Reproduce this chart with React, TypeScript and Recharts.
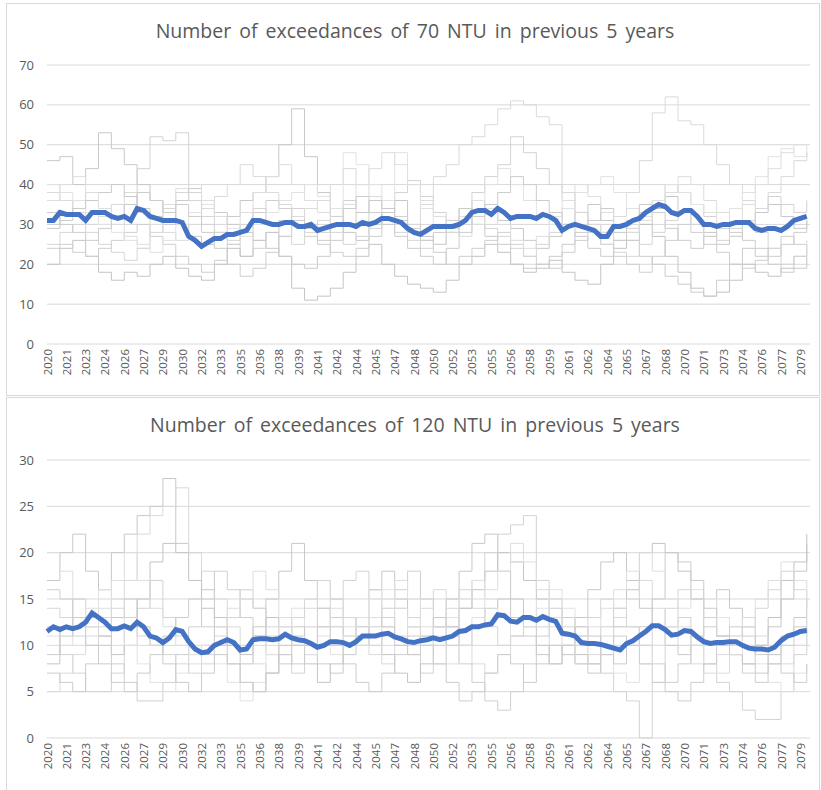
import React from 'react';
import { LineChart, Line, XAxis, YAxis, CartesianGrid } from 'recharts';

// x axis labels, one every 18 months
const TICK_YEARS = [
  2020, 2021, 2023, 2024, 2026, 2027, 2029, 2030, 2032, 2033,
  2035, 2036, 2038, 2039, 2041, 2042, 2044, 2045, 2047, 2048,
  2050, 2052, 2053, 2055, 2056, 2058, 2059, 2061, 2062, 2064,
  2065, 2067, 2068, 2070, 2071, 2073, 2074, 2076, 2077, 2079,
];

// mean of all runs, sampled every 6 months
const MEAN_70 = [
  31, 31, 33, 32.5, 32.5, 32.5, 31, 33, 33, 33, 32, 31.5, 32, 31, 34, 33.5, 32, 31.5, 31, 31,
  31, 30.5, 27, 26, 24.5, 25.5, 26.5, 26.5, 27.5, 27.5, 28, 28.5, 31, 31, 30.5, 30, 30, 30.5, 30.5, 29.5,
  29.5, 30, 28.5, 29, 29.5, 30, 30, 30, 29.5, 30.5, 30, 30.5, 31.5, 31.5, 31, 30.5, 29, 28, 27.5, 28.5,
  29.5, 29.5, 29.5, 29.5, 30, 31, 33, 33.5, 33.5, 32.5, 34, 33, 31.5, 32, 32, 32, 31.5, 32.5, 32, 31,
  28.5, 29.5, 30, 29.5, 29, 28.5, 27, 27, 29.5, 29.5, 30, 31, 31.5, 33, 34, 35, 34.5, 33, 32.5, 33.5,
  33.5, 32, 30, 30, 29.5, 30, 30, 30.5, 30.5, 30.5, 29, 28.5, 29, 29, 28.5, 29.5, 31, 31.5, 32,
];

const MEAN_120 = [
  11.5, 12, 11.7, 12, 11.8, 12, 12.5, 13.5, 13, 12.5, 11.8, 11.8, 12.1, 11.8, 12.5, 12, 11, 10.8, 10.3, 10.8,
  11.7, 11.5, 10.4, 9.6, 9.2, 9.3, 10, 10.3, 10.6, 10.3, 9.5, 9.6, 10.6, 10.7, 10.7, 10.6, 10.7, 11.2, 10.8, 10.6,
  10.5, 10.2, 9.8, 10, 10.4, 10.4, 10.3, 10, 10.4, 11, 11, 11, 11.2, 11.3, 10.9, 10.7, 10.4, 10.3, 10.5, 10.6,
  10.8, 10.6, 10.8, 11, 11.5, 11.6, 12, 12, 12.2, 12.3, 13.3, 13.2, 12.6, 12.5, 13, 13, 12.7, 13.1, 12.8, 12.6,
  11.3, 11.2, 11, 10.3, 10.2, 10.2, 10.1, 9.9, 9.7, 9.5, 10.2, 10.5, 11, 11.5, 12.1, 12.1, 11.7, 11.1, 11.2, 11.6,
  11.5, 10.9, 10.4, 10.2, 10.3, 10.3, 10.4, 10.4, 10, 9.7, 9.6, 9.6, 9.5, 9.8, 10.5, 11, 11.2, 11.5, 11.6,
];

// individual runs, one value per year
const RUN70_A = [46, 47, 40, 44, 53, 49, 45, 40, 36, 33, 30, 27, 25, 28, 32, 36, 38, 42, 50, 59, 47, 38, 32, 28, 26, 30, 33, 36, 30, 27, 25, 28, 32, 36, 34, 31, 29, 26, 24, 27, 30, 33, 35, 31, 28, 26, 30, 34, 37, 33, 30, 28, 25, 27, 30, 33, 35, 32, 29, 31];
const RUN70_B = [30, 33, 36, 38, 34, 30, 35, 44, 52, 51, 53, 38, 30, 27, 25, 22, 24, 28, 31, 34, 30, 28, 32, 36, 33, 30, 34, 38, 41, 37, 33, 30, 34, 38, 42, 45, 52, 48, 44, 40, 36, 33, 30, 28, 26, 29, 33, 36, 40, 38, 35, 32, 29, 27, 30, 34, 37, 35, 33, 36];
const RUN70_C = [20, 24, 26, 22, 18, 16, 18, 17, 20, 22, 19, 17, 16, 20, 24, 22, 26, 28, 22, 14, 11, 12, 14, 18, 22, 25, 20, 17, 15, 14, 13, 16, 20, 22, 25, 23, 20, 18, 19, 21, 18, 16, 15, 20, 24, 28, 30, 27, 22, 18, 14, 12, 13, 16, 20, 18, 17, 19, 22, 20];
const RUN70_D = [38, 36, 33, 30, 32, 35, 38, 33, 30, 28, 26, 30, 34, 37, 40, 45, 42, 38, 35, 32, 34, 36, 40, 44, 40, 37, 34, 31, 30, 35, 42, 45, 50, 52, 55, 59, 61, 60, 57, 55, 38, 33, 30, 28, 32, 38, 46, 58, 62, 56, 55, 50, 45, 40, 36, 34, 38, 42, 46, 48];
const RUN70_E = [24, 25, 23, 22, 24, 26, 28, 30, 27, 25, 22, 20, 18, 21, 25, 28, 33, 36, 34, 30, 27, 25, 23, 22, 24, 27, 30, 32, 29, 26, 23, 20, 22, 24, 26, 28, 25, 22, 20, 19, 23, 26, 28, 25, 22, 20, 18, 22, 26, 30, 28, 25, 23, 20, 19, 21, 24, 27, 25, 22];
const RUN70_F = [40, 38, 36, 33, 30, 28, 26, 24, 23, 26, 30, 33, 35, 32, 29, 27, 30, 33, 36, 38, 40, 37, 34, 48, 45, 40, 36, 48, 40, 34, 30, 28, 32, 36, 40, 44, 40, 36, 32, 30, 34, 38, 40, 42, 38, 34, 32, 36, 40, 38, 35, 33, 30, 34, 38, 42, 47, 49, 47, 48];
const RUN70_G = [29, 31, 34, 36, 38, 40, 37, 34, 32, 30, 36, 39, 36, 33, 30, 28, 26, 24, 22, 20, 19, 22, 26, 30, 33, 36, 34, 31, 28, 26, 28, 31, 34, 30, 27, 25, 20, 19, 20, 22, 25, 28, 31, 34, 30, 26, 22, 20, 17, 15, 13, 12, 16, 20, 24, 22, 20, 18, 19, 20];
const RUN70_H = [25, 28, 30, 28, 25, 23, 21, 24, 28, 34, 38, 36, 32, 28, 26, 30, 34, 30, 27, 25, 28, 31, 28, 25, 27, 29, 31, 28, 26, 24, 25, 28, 30, 32, 29, 27, 24, 22, 25, 28, 30, 33, 28, 25, 23, 22, 25, 28, 31, 33, 30, 27, 26, 29, 31, 28, 24, 20, 22, 26];
const RUN70_I = [36, 40, 42, 38, 34, 30, 27, 25, 30, 35, 39, 40, 36, 32, 28, 33, 38, 42, 45, 40, 36, 33, 30, 35, 40, 44, 48, 45, 40, 36, 32, 29, 27, 30, 34, 30, 26, 24, 27, 32, 36, 40, 37, 33, 30, 28, 31, 35, 38, 42, 40, 36, 33, 30, 35, 40, 44, 48, 50, 47];
const RUN70_J = [33, 30, 28, 26, 29, 32, 35, 38, 36, 33, 35, 32, 28, 24, 20, 17, 19, 23, 27, 31, 29, 26, 30, 34, 37, 33, 30, 27, 24, 22, 20, 24, 28, 32, 35, 38, 42, 40, 36, 33, 30, 27, 24, 22, 26, 31, 35, 33, 29, 26, 24, 27, 30, 28, 26, 24, 22, 25, 28, 31];

const RUN120_A = [17, 20, 22, 18, 16, 20, 22, 24, 25, 28, 21, 20, 16, 13, 10, 8, 12, 15, 18, 21, 17, 14, 12, 10, 13, 16, 18, 15, 12, 10, 12, 15, 18, 21, 22, 18, 15, 12, 10, 8, 10, 13, 16, 19, 20, 17, 14, 12, 10, 9, 11, 13, 16, 14, 12, 10, 12, 15, 18, 21];
const RUN120_B = [12, 9, 7, 5, 5, 7, 10, 14, 17, 13, 11, 9, 8, 10, 13, 16, 14, 11, 9, 7, 9, 12, 15, 17, 18, 16, 13, 11, 9, 7, 8, 11, 14, 17, 20, 22, 23, 24, 17, 15, 12, 10, 8, 7, 5, 4, 0, 6, 12, 13, 10, 8, 6, 5, 3, 2, 2, 5, 9, 12];
const RUN120_C = [8, 12, 15, 13, 11, 9, 12, 15, 19, 21, 20, 17, 14, 12, 10, 9, 11, 13, 12, 10, 8, 6, 8, 10, 12, 11, 9, 7, 6, 8, 10, 12, 14, 16, 18, 20, 19, 17, 15, 13, 11, 9, 8, 10, 12, 16, 20, 21, 20, 18, 15, 13, 11, 9, 8, 10, 13, 17, 19, 22];
const RUN120_D = [5, 7, 9, 11, 13, 15, 17, 22, 24, 25, 27, 20, 18, 15, 12, 10, 8, 7, 9, 11, 14, 17, 15, 13, 11, 9, 8, 10, 12, 14, 16, 13, 10, 8, 7, 9, 11, 13, 15, 12, 10, 8, 9, 11, 13, 15, 17, 14, 12, 10, 8, 7, 9, 11, 13, 11, 9, 8, 10, 12];
const RUN120_E = [16, 15, 13, 12, 10, 8, 6, 4, 4, 6, 9, 12, 15, 18, 16, 13, 11, 9, 8, 10, 12, 14, 13, 11, 10, 12, 14, 16, 18, 15, 12, 10, 8, 6, 4, 3, 5, 8, 11, 14, 13, 11, 10, 12, 14, 12, 10, 8, 6, 8, 10, 12, 11, 9, 7, 6, 8, 10, 12, 13];
const RUN120_F = [11, 10, 12, 14, 16, 13, 10, 8, 6, 5, 7, 9, 10, 8, 6, 4, 6, 9, 12, 14, 12, 10, 9, 11, 13, 15, 16, 14, 12, 10, 11, 13, 15, 17, 15, 13, 11, 12, 14, 16, 14, 12, 10, 9, 7, 6, 8, 10, 12, 14, 16, 15, 13, 11, 10, 8, 6, 5, 7, 8];
const RUN120_G = [7, 6, 5, 8, 11, 13, 15, 12, 10, 8, 6, 5, 7, 9, 8, 6, 5, 7, 10, 12, 10, 8, 7, 9, 11, 13, 12, 10, 9, 11, 13, 12, 10, 12, 14, 15, 13, 11, 9, 8, 10, 12, 11, 9, 8, 10, 12, 15, 20, 19, 17, 14, 11, 9, 8, 7, 9, 11, 13, 15];
const RUN120_H = [14, 13, 11, 10, 12, 14, 13, 11, 10, 9, 8, 7, 9, 11, 13, 15, 14, 12, 11, 13, 15, 17, 15, 13, 11, 10, 12, 14, 13, 11, 12, 14, 16, 14, 12, 10, 11, 13, 12, 10, 9, 11, 13, 15, 14, 12, 10, 12, 14, 16, 15, 13, 11, 10, 12, 14, 16, 18, 16, 14];
const RUN120_I = [20, 18, 15, 12, 14, 17, 20, 17, 14, 12, 10, 8, 10, 12, 14, 16, 18, 16, 13, 11, 9, 11, 14, 12, 10, 13, 15, 17, 15, 12, 10, 8, 10, 13, 16, 18, 21, 19, 16, 13, 11, 10, 12, 14, 16, 18, 20, 18, 15, 12, 10, 8, 7, 9, 12, 15, 17, 19, 17, 15];
const RUN120_J = [9, 11, 13, 10, 8, 6, 5, 7, 9, 11, 13, 15, 12, 10, 8, 6, 5, 7, 9, 8, 10, 12, 10, 8, 6, 5, 7, 9, 11, 10, 8, 6, 4, 5, 7, 9, 8, 6, 8, 10, 9, 8, 7, 9, 11, 10, 8, 6, 5, 4, 6, 8, 10, 12, 11, 9, 8, 7, 6, 8];

const RUNS_70 = [RUN70_A, RUN70_B, RUN70_C, RUN70_D, RUN70_E, RUN70_F, RUN70_G, RUN70_H, RUN70_I, RUN70_J];
const RUNS_120 = [RUN120_A, RUN120_B, RUN120_C, RUN120_D, RUN120_E, RUN120_F, RUN120_G, RUN120_H, RUN120_I, RUN120_J];

const GREYS = ['#c8c8c8', '#d3d3d3', '#c4c4c4', '#dadada', '#cfcfcf', '#e2e2e2', '#cbcbcb', '#d6d6d6', '#dedede', '#cdcdcd'];
const TEXT = '#595959';
const FONT = '"Open Sans", sans-serif';

// month offset of each sample
const toRows = (vals: number[], step: number) => vals.map((v, i) => ({ m: i * step, v }));

const YearTick = (props: any) => {
  const { x, y, payload } = props;
  const label = TICK_YEARS[Math.round(payload.value / 18)];
  return (
    <text x={x} y={y} transform={`rotate(-90 ${x} ${y})`} textAnchor="end" dominantBaseline="central"
      fill={TEXT} fontSize={11.5} fontFamily={FONT}>
      {label}
    </text>
  );
};

function Panel({ title, top, height, plotTop, axisH, yMax, yStep, runs, mean }: any) {
  const yTicks: number[] = [];
  for (let t = 0; t <= yMax; t += yStep) yTicks.push(t);
  const xTicks = TICK_YEARS.map((_, i) => i * 18);
  return (
    <div style={{ position: 'absolute', left: 6, top, width: 814, height, border: '1px solid #d9d9d9', boxSizing: 'border-box' }}>
      <div style={{ position: 'absolute', left: 4, right: 0, top: 13, textAlign: 'center', fontFamily: FONT, fontSize: 19.5, color: TEXT, wordSpacing: 3 }}>
        {title}
      </div>
      <div style={{ position: 'absolute', left: -6, top: -1 }}>
        <LineChart width={821} height={height} margin={{ top: plotTop, right: 12, left: 0, bottom: 0 }}>
          <CartesianGrid vertical={false} stroke="#d9d9d9" />
          <XAxis dataKey="m" type="number" domain={[0, 711]} ticks={xTicks} interval={0}
            axisLine={false} tickLine={false} tickSize={0} tickMargin={5} height={axisH} tick={<YearTick />} />
          <YAxis type="number" domain={[0, yMax]} ticks={yTicks} width={46} axisLine={false} tickLine={false}
            tickSize={0} tickMargin={13} tick={{ fill: TEXT, fontSize: 13, fontFamily: FONT }} />
          {runs.map((r: number[], i: number) => (
            <Line key={i} data={toRows(r, 12)} dataKey="v" type="stepAfter" stroke={GREYS[i % GREYS.length]}
              strokeWidth={1} dot={false} isAnimationActive={false} />
          ))}
          <Line data={toRows(mean, 6)} dataKey="v" type="linear" stroke="#4472C4" strokeWidth={5}
            dot={false} isAnimationActive={false} />
        </LineChart>
      </div>
    </div>
  );
}

export default function App() {
  return (
    <div style={{ position: 'absolute', left: 0, top: 0, width: 821, height: 790, background: '#fff', overflow: 'hidden' }}>
      <Panel title="Number of exceedances of 70 NTU in previous 5 years" top={3} height={393}
        plotTop={62} axisH={52} yMax={70} yStep={10} runs={RUNS_70} mean={MEAN_70} />
      <Panel title="Number of exceedances of 120 NTU in previous 5 years" top={397} height={400}
        plotTop={63} axisH={59} yMax={30} yStep={5} runs={RUNS_120} mean={MEAN_120} />
    </div>
  );
}
